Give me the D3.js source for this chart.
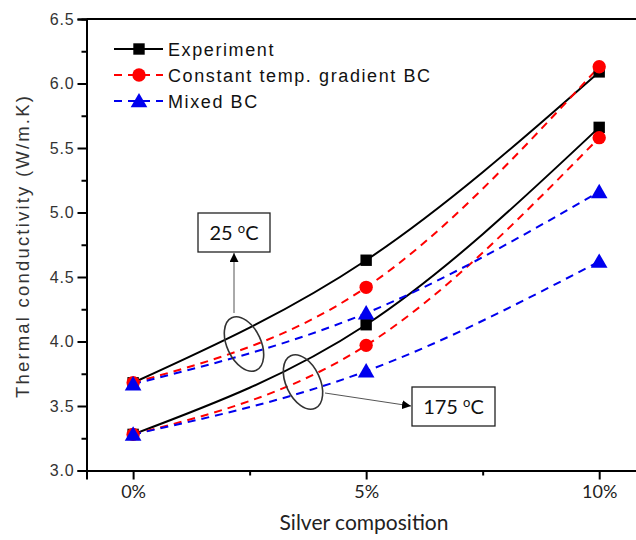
<!DOCTYPE html>
<html>
<head>
<meta charset="utf-8">
<script src="https://cdn.jsdelivr.net/npm/d3@7"></script>
<style>
  html, body { margin: 0; padding: 0; background: #fff; }
  svg { display: block; }
</style>
</head>
<body>
<svg id="chart" width="636" height="540"></svg>
<script>
// Silver composition (%) on x, thermal conductivity (W/m.K) on y
const composition = [0, 5, 10];
const xTickLabels = ["0%", "5%", "10%"];
const yTicks = [3.0, 3.5, 4.0, 4.5, 5.0, 5.5, 6.0, 6.5];

// 25 °C
const exp25   = [3.68, 4.63, 6.09];
const const25 = [3.68, 4.42, 6.13];
const mixed25 = [3.67, 4.22, 5.16];
// 175 °C
const exp175   = [3.28, 4.13, 5.66];
const const175 = [3.28, 3.97, 5.58];
const mixed175 = [3.28, 3.77, 4.62];

const legendNames = ["Experiment", "Constant temp. gradient BC", "Mixed BC"];

const svg = d3.select("#chart");
const x = d3.scaleLinear().domain([-1, 11]).range([86.5, 645.8]);
const y = d3.scaleLinear().domain([3.0, 6.5]).range([470.5, 19]);

const series = [
  { vals: exp25,    color: "#000", dash: null,  shape: "square" },
  { vals: exp175,   color: "#000", dash: null,  shape: "square" },
  { vals: const25,  color: "#f00", dash: "8,6", shape: "circle" },
  { vals: const175, color: "#f00", dash: "8,6", shape: "circle" },
  { vals: mixed25,  color: "#0000ee", dash: "8,6", shape: "triangle" },
  { vals: mixed175, color: "#0000ee", dash: "8,6", shape: "triangle" }
];

const line = d3.line()
  .x((d, i) => x(composition[i]))
  .y(d => y(d))
  .curve(d3.curveNatural);

const symbolFor = s => s === "square" ? d3.symbol(d3.symbolSquare, 130)
                    : s === "circle" ? d3.symbol(d3.symbolCircle, 140)
                    : d3.symbol(d3.symbolTriangle, 120);

// curves
const plot = svg.append("g");
series.forEach(s => {
  plot.append("path")
    .attr("d", line(s.vals))
    .attr("fill", "none")
    .attr("stroke", s.color)
    .attr("stroke-width", 2)
    .attr("stroke-dasharray", s.dash);
});
// markers
series.forEach(s => {
  plot.selectAll(null).data(s.vals).enter().append("path")
    .attr("d", symbolFor(s.shape)())
    .attr("transform", (d, i) => `translate(${x(composition[i])},${y(d) + (s.shape === "triangle" ? 1.5 : 0)})`)
    .attr("fill", s.color);
});

// axes
const tickFont = "Liberation Sans, Arial, sans-serif";
const yAxis = svg.append("g").attr("transform", `translate(${x(-1)},0)`)
  .call(d3.axisLeft(y).tickValues(yTicks).tickSize(9).tickPadding(3).tickFormat(d3.format(".1f")));
const yMinor = svg.append("g").attr("transform", `translate(${x(-1)},0)`)
  .call(d3.axisLeft(y).tickValues(d3.range(3.25, 6.5, 0.5)).tickSize(5).tickFormat(""));
const xAxis = svg.append("g").attr("transform", `translate(0,${y(3.0)})`)
  .call(d3.axisBottom(x).tickValues(composition).tickSize(9).tickPadding(6)
    .tickFormat((d, i) => xTickLabels[i]));
const xMinor = svg.append("g").attr("transform", `translate(0,${y(3.0)})`)
  .call(d3.axisBottom(x).tickValues([2.5, 7.5]).tickSize(5).tickFormat(""));

[yAxis, yMinor, xAxis, xMinor].forEach(g => {
  g.select(".domain").attr("stroke", "#000").attr("stroke-width", 2);
  g.selectAll(".tick line").attr("stroke", "#000").attr("stroke-width", 2);
});
yAxis.selectAll("text").attr("font-family", tickFont).attr("font-size", 16)
  .attr("letter-spacing", 0.8).attr("fill", "#333");
xAxis.selectAll("text").attr("font-family", "Lato, sans-serif").attr("font-size", 18).attr("fill", "#222");

// top frame line
svg.append("line")
  .attr("x1", x(-1)).attr("x2", x(11)).attr("y1", y(6.5)).attr("y2", y(6.5))
  .attr("stroke", "#000").attr("stroke-width", 2);

// axis titles
svg.append("text")
  .attr("transform", `translate(29,246) rotate(-90)`)
  .attr("text-anchor", "middle")
  .attr("font-family", tickFont).attr("font-size", 18.5).attr("letter-spacing", 2.2).attr("fill", "#333")
  .text("Thermal conductivity (W/m.K)");
svg.append("text")
  .attr("x", 364).attr("y", 530)
  .attr("text-anchor", "middle")
  .attr("font-family", "Lato, sans-serif").attr("font-size", 21).attr("fill", "#222")
  .text("Silver composition");

// legend
const legend = svg.append("g");
const legendStyles = [
  { color: "#000", dash: null, shape: "square" },
  { color: "#f00", dash: "8,6", shape: "circle" },
  { color: "#0000ee", dash: "8,6", shape: "triangle" }
];
legendNames.forEach((name, i) => {
  const ly = 49 + i * 26;
  const st = legendStyles[i];
  legend.append("line")
    .attr("x1", 114).attr("x2", 163).attr("y1", ly).attr("y2", ly)
    .attr("stroke", st.color).attr("stroke-width", 2)
    .attr("stroke-dasharray", st.dash);
  legend.append("path")
    .attr("d", symbolFor(st.shape)())
    .attr("transform", `translate(139,${ly + (st.shape === "triangle" ? 1.5 : 0)})`)
    .attr("fill", st.color);
  legend.append("text")
    .attr("x", 168).attr("y", ly + 6.5)
    .attr("font-family", tickFont).attr("font-size", 18).attr("letter-spacing", 1.6).attr("fill", "#111")
    .text(name);
});

// temperature callouts
svg.append("defs").append("marker")
  .attr("id", "arrow").attr("viewBox", "0 0 10 10")
  .attr("refX", 10).attr("refY", 5)
  .attr("markerWidth", 9).attr("markerHeight", 9)
  .attr("markerUnits", "userSpaceOnUse")
  .attr("orient", "auto")
  .append("path").attr("d", "M0,0 L10,5 L0,10 Z").attr("fill", "#000");

function callout(cx, cy, x1, y1, x2, y2, bx, by, bw, bh, label) {
  svg.append("ellipse")
    .attr("transform", `translate(${cx},${cy}) rotate(-25)`)
    .attr("rx", 17).attr("ry", 29)
    .attr("fill", "none").attr("stroke", "#333").attr("stroke-width", 1.6);
  svg.append("line")
    .attr("x1", x1).attr("y1", y1).attr("x2", x2).attr("y2", y2)
    .attr("stroke", "#555").attr("stroke-width", 1)
    .attr("marker-end", "url(#arrow)");
  svg.append("rect")
    .attr("x", bx).attr("y", by).attr("width", bw).attr("height", bh)
    .attr("fill", "#fff").attr("stroke", "#222").attr("stroke-width", 1.3);
  const t = svg.append("text")
    .attr("x", bx + bw / 2).attr("y", by + bh / 2 + 7)
    .attr("text-anchor", "middle")
    .attr("font-family", "Lato, sans-serif").attr("font-size", 20).attr("fill", "#111");
  t.append("tspan").text(label + " ");
  t.append("tspan").attr("font-size", 13).attr("dy", -7).text("o");
  t.append("tspan").attr("dy", 7).text("C");
}
callout(244, 344, 234, 313, 234, 253, 198, 213, 72, 39, "25");
callout(303, 382, 325, 393, 411, 406, 412, 387, 83, 39, "175");
</script>
</body>
</html>
